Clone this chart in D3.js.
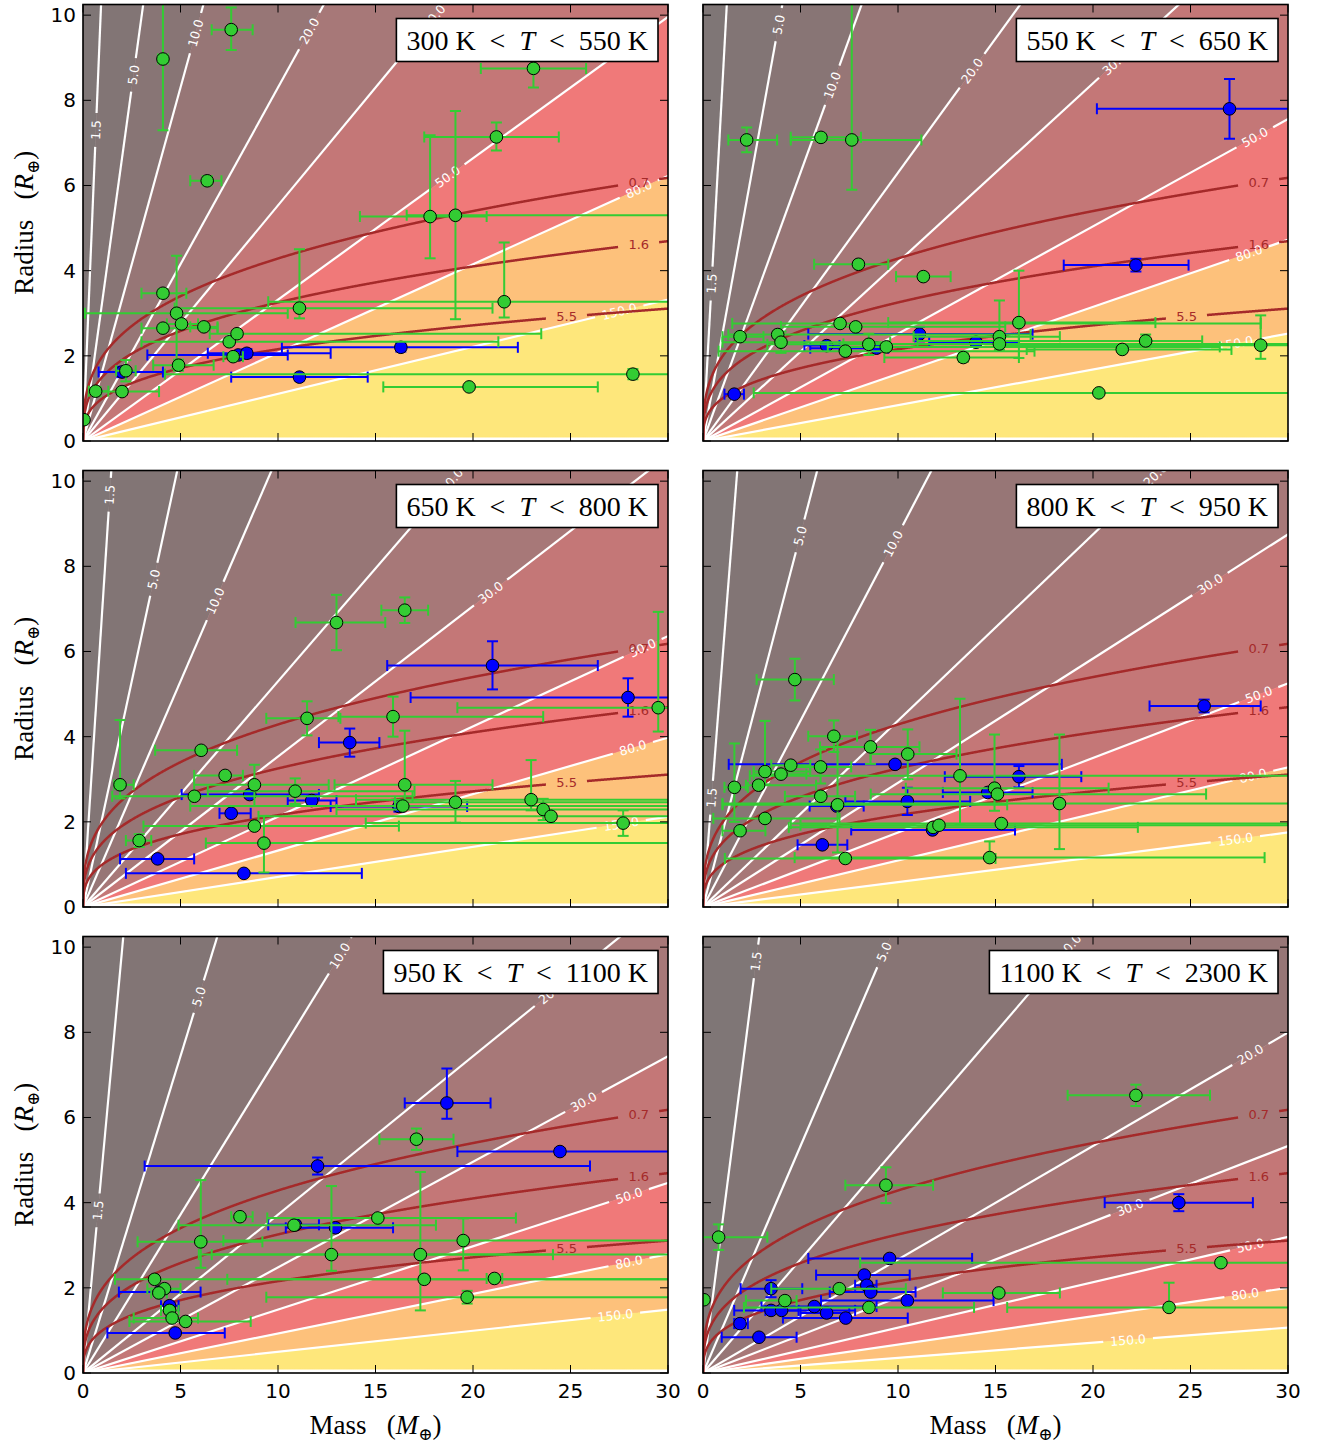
<!DOCTYPE html>
<html>
<head>
<meta charset="utf-8">
<script src="https://cdn.jsdelivr.net/npm/d3@7"></script>
<style>
  body { margin: 0; background: #fff; }
  svg text { font-family: 'DejaVu Sans', sans-serif; }
  .serif { font-family: 'Liberation Serif', 'DejaVu Serif', serif; }
</style>
</head>
<body>
<div id="chart"></div>
<script>
// ---- data ----
const massTicks = [0, 5, 10, 15, 20, 25, 30];
const radiusTicks = [0, 2, 4, 6, 8, 10];
const tempLow = [300, 550, 650, 800, 950, 1100];
const tempHigh = [550, 650, 800, 950, 1100, 2300];

// escape parameter contours (white) and the band colours between them
const lambdaLevels = [1.5, 5, 10, 20, 30, 50, 80, 150];
const bandColors = ['#7f7676', '#827575', '#887575', '#977676', '#a77878',
    '#c47777', '#f07979', '#fdc17b', '#fee77b'];
// R = slope * M / lambda, one slope per temperature bin
const lambdaSlope = [16.6, 12.6, 10.6, 8.75, 7.44, 5.33];
// where the inline labels sit (mass along each contour)
const lambdaLabelMass = [
    [0.66, 2.59, 5.77, 11.6, 18.0, 18.7, 28.5, 27.5],
    [0.44, 3.88, 6.63, 13.8, 21.1, 28.3, 28.0, 27.3],
    [1.37, 3.63, 6.78, 18.9, 20.9, 28.7, 28.2, 27.6],
    [0.44, 4.98, 9.75, 23.2, 26.0, 28.5, 28.2, 27.3],
    [0.77, 5.94, 13.17, 24.0, 25.67, 28.0, 28.0, 27.3],
    [2.72, 9.28, 18.8, 28.07, 21.9, 28.07, 27.8, 21.8]
];

// constant density curves (g/cm3)
const densities = [0.7, 1.6, 5.5];
const densityLabelMass = [28.5, 28.5, 24.8];
const earthDensity = 5.51;

// planets: [mass, radius, massLo, massHi, radiusLo, radiusHi]
const greenP1 = [
    [0.05, 0.50, null, null, null, null],
    [0.65, 1.17, 0.3, 1.3, 1.09, 1.25],
    [2.0, 1.16, 0.9, 3.9, 1.09, 1.23],
    [2.2, 1.65, 1.7, 2.7, 1.40, 1.90],
    [4.9, 1.78, 3.6, 6.7, 1.65, 1.91],
    [4.1, 2.65, 3.0, 6.9, 2.57, 2.73],
    [4.8, 3.00, 0.1, 10.5, 1.70, 4.35],
    [4.1, 3.47, 3.0, 5.3, 3.37, 3.57],
    [5.05, 2.75, 4.3, 5.9, 2.68, 2.82],
    [6.2, 2.68, 5.5, 6.9, 2.60, 2.76],
    [7.5, 2.33, 3.0, 21.3, 2.25, 2.41],
    [7.9, 2.52, 6.5, 23.5, 2.44, 2.60],
    [7.7, 1.98, 7.2, 8.2, 1.90, 2.06],
    [6.37, 6.11, 5.5, 7.1, 6.00, 6.22],
    [4.1, 8.97, 3.85, 4.35, 7.30, 10.4],
    [7.6, 9.66, 6.6, 8.7, 9.18, 10.18],
    [11.1, 3.12, 4.7, 21.0, 2.88, 4.50],
    [23.1, 8.75, 20.4, 25.8, 8.30, 9.20],
    [21.2, 7.14, 17.5, 24.4, 6.82, 7.48],
    [17.8, 5.27, 14.2, 20.7, 4.29, 7.18],
    [19.1, 5.30, 16.6, 31, 2.86, 7.75],
    [21.6, 3.27, 9.5, 31, 2.90, 4.66],
    [28.2, 1.57, 4.2, 31, 1.45, 1.69],
    [19.8, 1.27, 15.4, 26.4, 1.22, 1.32]
];
const blueP1 = [
    [2.0, 1.62, 0.8, 4.1, 1.50, 1.74],
    [7.96, 2.02, 3.3, 10.5, 1.95, 2.09],
    [8.4, 2.06, 6.4, 12.7, 1.96, 2.16],
    [16.3, 2.20, 10.2, 22.3, 2.10, 2.30],
    [11.1, 1.50, 7.6, 14.6, 1.42, 1.58]
];
const greenP2 = [
    [2.24, 7.07, 1.3, 3.8, 6.78, 7.36],
    [6.05, 7.13, 4.5, 8.1, 7.03, 7.23],
    [7.63, 7.07, 4.5, 11.2, 5.90, 10.4],
    [7.97, 4.15, 5.7, 9.5, 4.07, 4.23],
    [11.3, 3.86, 9.9, 12.7, 3.79, 3.93],
    [20.3, 1.13, 2.6, 31, 1.08, 1.18],
    [1.9, 2.45, 1.0, 3.1, 2.35, 2.55],
    [3.83, 2.50, 1.3, 16.8, 2.42, 2.58],
    [4.0, 2.32, 1.0, 9.6, 2.07, 2.57],
    [7.03, 2.76, 1.5, 28.6, 2.70, 2.82],
    [7.83, 2.68, 4.0, 15.5, 2.62, 2.74],
    [7.3, 2.11, 0.8, 17.0, 2.05, 2.17],
    [8.5, 2.27, 3.3, 15.3, 2.02, 2.52],
    [9.4, 2.21, 6.4, 26.5, 2.15, 2.27],
    [13.35, 1.96, 9.3, 16.2, 1.86, 2.06],
    [15.2, 2.45, 10.8, 18.3, 2.14, 3.30],
    [15.2, 2.28, 7.2, 31, 2.20, 2.36],
    [16.2, 2.78, 9.5, 23.2, 1.95, 4.00],
    [21.5, 2.15, 16.6, 27.1, 2.10, 2.20],
    [22.7, 2.35, 11.0, 25.6, 2.20, 2.50],
    [28.6, 2.25, 15.0, 31, 1.93, 2.95]
];
const blueP2 = [
    [1.6, 1.10, 1.1, 2.1, 1.05, 1.15],
    [6.34, 2.24, 5.2, 7.0, 2.18, 2.30],
    [8.9, 2.18, 5.5, 9.5, 2.13, 2.23],
    [11.1, 2.51, 5.4, 16.9, 2.34, 2.68],
    [14.0, 2.32, 11.6, 16.2, 2.27, 2.37],
    [22.2, 4.13, 18.5, 24.9, 3.98, 4.28],
    [27.0, 7.80, 20.2, 31, 7.10, 8.50]
];
const greenP3 = [
    [1.9, 2.87, 1.6, 2.6, 2.55, 4.39],
    [2.88, 1.56, 2.2, 3.5, 1.41, 1.71],
    [6.06, 3.68, 3.7, 7.9, 3.62, 3.74],
    [7.29, 3.09, 5.7, 8.2, 3.02, 3.16],
    [5.71, 2.60, 1.5, 16.9, 2.53, 2.67],
    [8.79, 2.87, 5.7, 12.6, 2.37, 3.34],
    [10.88, 2.72, 6.4, 17.0, 2.42, 3.02],
    [11.49, 4.43, 9.4, 13.2, 4.03, 4.83],
    [15.9, 4.47, 13.1, 23.6, 4.00, 4.94],
    [13.0, 6.68, 10.9, 15.5, 6.03, 7.33],
    [16.5, 6.97, 15.3, 17.7, 6.67, 7.27],
    [8.79, 1.90, 3.1, 16.2, 1.83, 1.97],
    [9.28, 1.50, 6.3, 31, 0.81, 2.14],
    [16.5, 2.87, 12.9, 21.0, 2.33, 4.14],
    [16.4, 2.37, 5.5, 31, 2.30, 2.44],
    [19.1, 2.46, 16.0, 31, 1.98, 2.96],
    [22.98, 2.52, 14.0, 31, 2.27, 3.45],
    [23.6, 2.29, 13.0, 31, 2.04, 2.54],
    [24.0, 2.13, 9.0, 31, 2.08, 2.18],
    [27.7, 1.97, 14.5, 31, 1.67, 2.27],
    [29.5, 4.68, 19.2, 31, 4.12, 6.93]
];
const blueP3 = [
    [3.83, 1.13, 1.9, 5.7, 1.08, 1.18],
    [8.25, 0.79, 2.2, 14.3, 0.75, 0.83],
    [7.6, 2.20, 7.0, 8.6, 2.15, 2.25],
    [8.55, 2.64, 5.06, 12.1, 2.58, 2.70],
    [11.73, 2.50, 10.5, 13.0, 2.38, 2.62],
    [16.2, 2.36, 12.7, 19.7, 2.24, 2.48],
    [13.68, 3.86, 12.1, 15.2, 3.53, 4.19],
    [21.0, 5.67, 15.6, 26.4, 5.11, 6.24],
    [27.95, 4.92, 16.8, 31, 4.47, 5.37]
];
const greenP4 = [
    [4.71, 5.34, 2.75, 6.71, 4.85, 5.83],
    [6.71, 4.01, 5.4, 7.9, 3.64, 4.38],
    [8.59, 3.76, 6.0, 11.1, 3.36, 4.16],
    [10.5, 3.59, 8.6, 13.0, 3.00, 4.17],
    [4.5, 3.33, 3.5, 5.5, 3.26, 3.40],
    [6.03, 3.29, 4.6, 7.6, 2.90, 3.70],
    [3.18, 3.18, 2.6, 5.5, 2.88, 4.37],
    [4.0, 3.12, 2.6, 5.3, 3.05, 3.19],
    [1.61, 2.81, 1.1, 2.3, 2.00, 3.84],
    [2.85, 2.86, 2.2, 5.8, 2.80, 2.92],
    [6.04, 2.60, 4.2, 7.8, 2.53, 2.67],
    [6.9, 2.40, 1.0, 15.6, 1.28, 3.95],
    [13.18, 3.08, 2.4, 31, 1.93, 4.89],
    [14.95, 2.79, 10.4, 20.8, 2.26, 4.05],
    [15.1, 2.65, 8.6, 25.8, 2.58, 2.72],
    [18.28, 2.43, 1.0, 31, 1.36, 4.05],
    [3.18, 2.08, 0.53, 7.0, 2.00, 2.16],
    [1.9, 1.79, 1.0, 3.2, 1.72, 1.86],
    [11.8, 1.87, 4.4, 22.3, 1.80, 1.94],
    [12.1, 1.92, 5.0, 31, 1.85, 1.99],
    [15.3, 1.96, 4.5, 31, 1.90, 2.02],
    [7.3, 1.14, 1.12, 15.0, 1.08, 1.20],
    [14.7, 1.16, 4.7, 28.8, 1.10, 1.54]
];
const blueP4 = [
    [6.12, 1.46, 4.85, 7.4, 1.40, 1.52],
    [6.86, 2.37, 5.47, 8.24, 2.30, 2.44],
    [10.48, 2.48, 7.3, 13.7, 2.16, 2.80],
    [9.85, 3.35, 1.32, 18.4, 3.28, 3.42],
    [14.6, 2.69, 12.3, 16.9, 2.62, 2.76],
    [16.2, 3.06, 12.4, 19.4, 2.81, 3.31],
    [11.77, 1.81, 7.6, 16.0, 1.75, 1.87],
    [25.7, 4.72, 22.9, 28.6, 4.57, 4.87]
];
const greenP5 = [
    [8.05, 3.67, 7.6, 8.7, 3.60, 3.74],
    [10.82, 3.47, 4.9, 18.1, 3.41, 3.53],
    [15.12, 3.64, 9.45, 22.2, 3.58, 3.70],
    [17.1, 5.49, 15.2, 19.0, 5.24, 5.74],
    [6.04, 3.08, 2.8, 9.2, 2.47, 4.53],
    [12.74, 2.78, 5.94, 31, 2.40, 4.39],
    [17.3, 2.78, 6.6, 24.1, 1.47, 4.72],
    [19.5, 3.11, 7.2, 31, 2.41, 3.63],
    [3.67, 2.20, 1.64, 31, 2.13, 2.27],
    [17.5, 2.20, 7.4, 31, 2.14, 2.26],
    [21.1, 2.22, 20.7, 21.5, 2.17, 2.27],
    [19.7, 1.78, 9.4, 31, 1.63, 1.93],
    [4.18, 1.98, 3.3, 5.0, 1.92, 2.04],
    [3.89, 1.88, 3.5, 4.3, 1.82, 1.94],
    [4.44, 1.47, 4.0, 4.9, 1.40, 1.54],
    [4.57, 1.29, 2.6, 5.9, 1.23, 1.35],
    [5.26, 1.21, 2.38, 8.6, 1.15, 1.27]
];
const blueP5 = [
    [18.66, 6.34, 16.5, 20.9, 5.97, 7.15],
    [12.03, 4.86, 3.16, 26.0, 4.66, 5.06],
    [24.46, 5.20, 19.2, 31, 5.13, 5.27],
    [10.9, 3.48, 9.5, 12.1, 3.42, 3.54],
    [12.95, 3.41, 10.4, 15.9, 3.36, 3.46],
    [4.44, 1.58, 4.0, 4.9, 1.50, 1.66],
    [3.9, 1.90, 1.84, 6.03, 1.85, 1.95],
    [4.73, 0.94, 1.25, 7.27, 0.90, 0.98]
];
const greenP6 = [
    [22.2, 6.52, 18.7, 26.0, 6.27, 6.77],
    [9.38, 4.41, 7.3, 11.8, 3.99, 4.83],
    [0.8, 3.19, 0.0, 3.3, 2.89, 3.49],
    [0.05, 1.72, null, null, null, null],
    [6.99, 1.98, 3.5, 10.4, 1.93, 2.03],
    [4.2, 1.70, 2.2, 4.8, 1.60, 1.80],
    [8.51, 1.54, 2.1, 13.9, 1.50, 1.58],
    [15.17, 1.88, 12.3, 18.3, 1.83, 1.93],
    [26.56, 2.59, 8.06, 31, 2.54, 2.64],
    [23.9, 1.54, 15.6, 31, 1.50, 2.12]
];
const blueP6 = [
    [24.4, 4.00, 20.6, 28.2, 3.80, 4.20],
    [9.57, 2.69, 5.4, 13.8, 2.64, 2.74],
    [8.27, 2.30, 5.8, 10.6, 2.25, 2.35],
    [8.4, 2.06, 7.8, 8.9, 1.98, 2.14],
    [8.6, 1.90, 6.5, 10.9, 1.85, 1.95],
    [3.49, 1.98, 1.93, 5.09, 1.78, 2.18],
    [10.48, 1.70, 6.05, 14.9, 1.65, 1.75],
    [5.71, 1.56, 3.0, 8.9, 1.50, 1.62],
    [6.34, 1.41, 5.0, 7.5, 1.36, 1.46],
    [7.32, 1.29, 4.1, 10.5, 1.24, 1.34],
    [3.49, 1.47, 1.6, 7.8, 1.40, 1.54],
    [4.03, 1.47, 3.2, 4.9, 1.42, 1.52],
    [1.9, 1.16, 1.6, 2.3, 1.06, 1.26],
    [2.87, 0.84, 0.96, 4.8, 0.80, 0.88]
];

const greenSets = [greenP1, greenP2, greenP3, greenP4, greenP5, greenP6];
const blueSets = [blueP1, blueP2, blueP3, blueP4, blueP5, blueP6];

// ---- layout ----
const panelLeft = [83, 703];
const panelBottom = [441, 907, 1373];
const plotW = 585, plotH = 436.5;
const rMax = 10.25, mMax = 30;
const greenColor = '#33cc33', blueColor = '#0000ff', brown = '#a52a2a';

const svg = d3.select('#chart').append('svg')
    .attr('width', 1324).attr('height', 1448);
const defs = svg.append('defs');

tempLow.forEach((lo, i) => {
    const col = i % 2, row = Math.floor(i / 2);
    const x0 = panelLeft[col], y1 = panelBottom[row], y0 = y1 - plotH;
    const x = d3.scaleLinear().domain([0, mMax]).range([x0, x0 + plotW]);
    const y = d3.scaleLinear().domain([0, rMax]).range([y1, y0]);
    const K = lambdaSlope[i];

    defs.append('clipPath').attr('id', `clip${i}`)
        .append('rect').attr('x', x0).attr('y', y0)
        .attr('width', plotW).attr('height', plotH);

    const g = svg.append('g').attr('clip-path', `url(#clip${i})`);

    // filled bands between escape parameter contours
    const bounds = [0, ...lambdaLevels, Infinity];
    const masses = d3.range(0, 30.01, 0.05);
    const floorR = 0.09;
    bandColors.forEach((c, b) => {
        const a = bounds[b], z = bounds[b + 1];
        const area = d3.area()
            .x(m => x(m))
            .y0(m => y(Math.max(floorR, z === Infinity ? 0 : K * m / z)))
            .y1(m => y(Math.max(floorR, a === 0 ? rMax + 1 : Math.min(rMax + 1, K * m / a))));
        g.append('path').attr('d', area(masses)).attr('fill', c)
            .attr('stroke', c).attr('stroke-width', 0.5);
    });

    // white contours with inline labels
    const lineG = g.append('g');
    const labG = g.append('g');
    const origin = [x(0), y(0)];
    lambdaLevels.forEach((lv, k) => {
        const s = K / lv;
        const far = [x(40), y(40 * s)];
        let ux = far[0] - origin[0], uy = far[1] - origin[1];
        const len = Math.hypot(ux, uy);
        ux /= len; uy /= len;
        const mL = lambdaLabelMass[i][k];
        const L = [x(mL), y(s * mL)];
        const ang = Math.atan2(uy, ux) * 180 / Math.PI;
        const t = labG.append('text')
            .attr('transform', `translate(${L[0]},${L[1]}) rotate(${ang})`)
            .attr('text-anchor', 'middle')
            .attr('dominant-baseline', 'central')
            .attr('font-size', 12.5)
            .attr('fill', '#fff')
            .text(lv.toFixed(1));
        const gap = t.node().getComputedTextLength() / 2 + 7;
        const segs = [
            [origin, [L[0] - gap * ux, L[1] - gap * uy]],
            [[L[0] + gap * ux, L[1] + gap * uy], [origin[0] + ux * 3000, origin[1] + uy * 3000]]
        ];
        segs.forEach(sg => {
            lineG.append('line')
                .attr('x1', sg[0][0]).attr('y1', sg[0][1])
                .attr('x2', sg[1][0]).attr('y2', sg[1][1])
                .attr('stroke', '#fff').attr('stroke-width', 2.2);
        });
    });

    // constant density curves
    const curveG = g.append('g');
    const curveLabG = g.append('g');
    densities.forEach((rho, k) => {
        const mL = densityLabelMass[k];
        const rad = m => Math.cbrt(m * earthDensity / rho);
        const t = curveLabG.append('text')
            .attr('x', x(mL)).attr('y', y(rad(mL)))
            .attr('text-anchor', 'middle')
            .attr('dominant-baseline', 'central')
            .attr('font-size', 13)
            .attr('fill', brown)
            .text(rho.toFixed(1));
        const gapM = (t.node().getComputedTextLength() / 2 + 10) / (plotW / mMax);
        const line = d3.line().x(m => x(m)).y(m => y(rad(m)));
        const left = d3.range(0, mL - gapM, 0.02);
        const right = d3.range(mL + gapM, 30.05, 0.02);
        [left, right].forEach(seg => {
            curveG.append('path')
                .attr('d', line(seg))
                .attr('fill', 'none')
                .attr('stroke', brown)
                .attr('stroke-width', 2.5);
        });
    });

    // planets: blue first, green on top
    const cap = 5.5;
    const drawSet = (data, color) => {
        const eg = g.append('g').attr('stroke', color).attr('stroke-width', 2);
        data.forEach(d => {
            const [m, r, m0, m1, r0, r1] = d;
            if (m0 !== null) {
                eg.append('line').attr('x1', x(m0)).attr('x2', x(m1))
                    .attr('y1', y(r)).attr('y2', y(r));
                [m0, m1].forEach(v => eg.append('line')
                    .attr('x1', x(v)).attr('x2', x(v))
                    .attr('y1', y(r) - cap).attr('y2', y(r) + cap));
            }
            if (r0 !== null) {
                eg.append('line').attr('x1', x(m)).attr('x2', x(m))
                    .attr('y1', y(r0)).attr('y2', y(r1));
                [r0, r1].forEach(v => eg.append('line')
                    .attr('x1', x(m) - cap).attr('x2', x(m) + cap)
                    .attr('y1', y(v)).attr('y2', y(v)));
            }
        });
        g.append('g').selectAll('circle').data(data).join('circle')
            .attr('cx', d => x(d[0])).attr('cy', d => y(d[1]))
            .attr('r', 6.3)
            .attr('fill', color)
            .attr('stroke', '#000').attr('stroke-width', 1);
    };
    drawSet(blueSets[i], blueColor);
    drawSet(greenSets[i], greenColor);

    // ticks on all sides, pointing in
    const tk = svg.append('g').attr('stroke', '#000').attr('stroke-width', 1);
    massTicks.forEach(v => {
        tk.append('line').attr('x1', x(v)).attr('x2', x(v)).attr('y1', y1).attr('y2', y1 - 8);
        tk.append('line').attr('x1', x(v)).attr('x2', x(v)).attr('y1', y0).attr('y2', y0 + 8);
    });
    radiusTicks.forEach(v => {
        tk.append('line').attr('x1', x0).attr('x2', x0 + 8).attr('y1', y(v)).attr('y2', y(v));
        tk.append('line').attr('x1', x0 + plotW).attr('x2', x0 + plotW - 8).attr('y1', y(v)).attr('y2', y(v));
    });

    svg.append('rect').attr('x', x0).attr('y', y0)
        .attr('width', plotW).attr('height', plotH)
        .attr('fill', 'none').attr('stroke', '#000').attr('stroke-width', 1.6);

    if (col === 0) {
        svg.append('g').selectAll('text').data(radiusTicks).join('text')
            .attr('x', x0 - 7).attr('y', d => y(d))
            .attr('text-anchor', 'end').attr('dominant-baseline', 'central')
            .attr('font-size', 20)
            .text(d => d);
        const yl = svg.append('text').attr('class', 'serif')
            .attr('transform', `translate(33,${(y0 + y1) / 2}) rotate(-90)`)
            .attr('text-anchor', 'middle').attr('font-size', 27);
        yl.append('tspan').text('Radius\u00a0\u00a0\u00a0(');
        yl.append('tspan').attr('font-style', 'italic').text('R');
        yl.append('tspan').attr('font-size', 17).attr('dy', 6).text('\u2295');
        yl.append('tspan').attr('dy', -6).text(')');
    }
    if (row === 2) {
        svg.append('g').selectAll('text').data(massTicks).join('text')
            .attr('x', d => x(d)).attr('y', y1 + 25)
            .attr('text-anchor', 'middle')
            .attr('font-size', 20)
            .text(d => d);
        const xl = svg.append('text').attr('class', 'serif')
            .attr('x', x0 + plotW / 2).attr('y', y1 + 61)
            .attr('text-anchor', 'middle').attr('font-size', 27);
        xl.append('tspan').text('Mass\u00a0\u00a0\u00a0(');
        xl.append('tspan').attr('font-style', 'italic').text('M');
        xl.append('tspan').attr('font-size', 17).attr('dy', 6).text('\u2295');
        xl.append('tspan').attr('dy', -6).text(')');
    }

    // temperature bin box
    const lg = svg.append('g');
    const rect = lg.append('rect');
    const lt = lg.append('text').attr('class', 'serif')
        .attr('font-size', 28).attr('text-anchor', 'end')
        .attr('x', x0 + plotW - 20).attr('y', y0 + 45);
    lt.append('tspan').text(`${lo}\u00a0K\u00a0\u00a0<\u00a0\u00a0`);
    lt.append('tspan').attr('font-style', 'italic').text('T');
    lt.append('tspan').text(`\u00a0\u00a0<\u00a0\u00a0${tempHigh[i]}\u00a0K`);
    const bb = lt.node().getBBox();
    rect.attr('x', bb.x - 10).attr('y', y0 + 14)
        .attr('width', bb.width + 20).attr('height', 43)
        .attr('fill', '#fff').attr('stroke', '#000').attr('stroke-width', 1.6);
});
</script>
</body>
</html>
